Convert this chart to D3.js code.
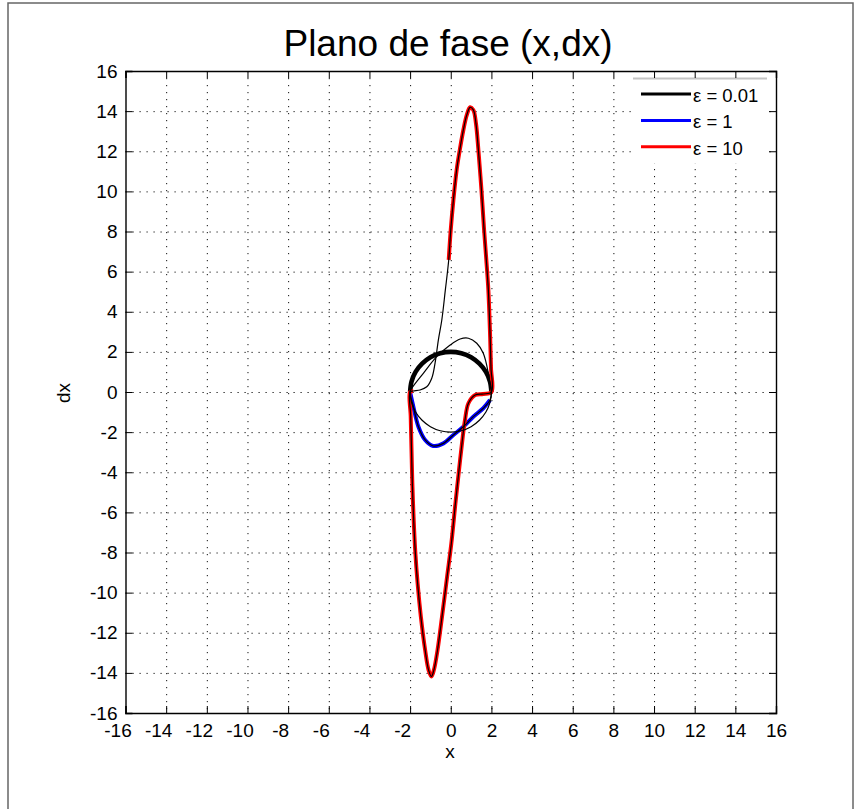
<!DOCTYPE html>
<html>
<head>
<meta charset="utf-8">
<script src="https://cdn.jsdelivr.net/npm/d3@7/dist/d3.min.js"></script>
<style>
  body { margin: 0; background: #fff; }
  svg { display: block; font-family: "Liberation Sans", Arial, Helvetica, sans-serif; }
</style>
</head>
<body>
<svg id="chart" width="855" height="809"></svg>
<script>
// tick values shared by both axes
const tickValues = [-16, -14, -12, -10, -8, -6, -4, -2, 0, 2, 4, 6, 8, 10, 12, 14, 16];

const seriesNames = ["ε = 0.01", "ε = 1", "ε = 10"];

// phase-plane loops (x, dx), in the order they are travelled
const loopEps001 = [
  [-2.00, 0.00], [-1.93, 0.52], [-1.73, 1.00], [-1.41, 1.41], [-1.00, 1.73], [-0.52, 1.93],
  [0.00, 2.00], [0.52, 1.93], [1.00, 1.73], [1.41, 1.41], [1.73, 1.00], [1.93, 0.52],
  [2.00, 0.00], [1.93, -0.52], [1.73, -1.00], [1.41, -1.41], [1.00, -1.73], [0.52, -1.93],
  [0.00, -2.00], [-0.52, -1.93], [-1.00, -1.73], [-1.41, -1.41], [-1.73, -1.00], [-1.93, -0.52]
];

const loopEps1 = [
  [1.93, -0.40], [1.60, -0.81], [1.11, -1.23], [0.62, -1.73], [0.13, -2.14], [-0.36, -2.56],
  [-0.86, -2.69], [-1.26, -2.39], [-1.59, -1.73], [-1.84, -0.73], [-2.00, 0.00],
  [-1.92, 0.18], [-1.35, 0.93], [-0.69, 1.76], [-0.03, 2.34], [0.46, 2.64], [0.87, 2.68],
  [1.28, 2.43], [1.60, 1.93], [1.85, 0.93], [1.93, 0.35], [2.00, 0.00]
];

const loopEps10 = [
  [-0.10, 6.58], [0.00, 8.08], [0.13, 9.57], [0.29, 11.07], [0.45, 12.10], [0.62, 13.06],
  [0.79, 13.81], [0.95, 14.19], [1.11, 14.06], [1.24, 13.39], [1.36, 12.06], [1.51, 10.07],
  [1.64, 8.08], [1.75, 6.58], [1.85, 5.08], [1.93, 3.00], [1.98, 1.20], [2.00, 0.00],
  [1.60, -0.10], [1.20, -0.15], [0.87, -0.56], [0.70, -1.40], [0.59, -2.23], [0.46, -3.39],
  [0.23, -5.55], [0.03, -7.54], [-0.18, -9.21], [-0.43, -11.20], [-0.65, -12.86], [-0.83, -13.86],
  [-0.95, -14.18], [-1.09, -13.86], [-1.26, -12.86], [-1.47, -11.20], [-1.63, -9.54], [-1.75, -7.88],
  [-1.83, -6.22], [-1.89, -4.55], [-1.93, -2.89], [-1.97, -1.20], [-2.00, 0.00], [-1.85, 0.05],
  [-1.51, 0.10], [-1.18, 0.26], [-0.93, 0.70], [-0.77, 1.45], [-0.61, 2.59], [-0.44, 3.59],
  [-0.27, 5.05]
];

// how many leading points of each loop are drawn with the thick coloured line
const thickCounts = [13, 11, 42];

const loops = [loopEps001, loopEps1, loopEps10];

const color = d3.scaleOrdinal()
  .domain(seriesNames)
  .range(["#000000", "#0000ff", "#ff0000"]);

const svg = d3.select("#chart");

const x = d3.scaleLinear().domain([-16, 16]).range([125.5, 776]);
const y = d3.scaleLinear().domain([-16, 16]).range([713, 71]);

// outer figure frame
svg.append("rect")
  .attr("x", 8)
  .attr("y", 3)
  .attr("width", 845)
  .attr("height", 840)
  .attr("fill", "#fff")
  .attr("stroke", "#666")
  .attr("stroke-width", 1.5);

// dotted grid
const grid = svg.append("g").attr("stroke", "#111").attr("stroke-width", 1).attr("stroke-dasharray", "1.2,5.8");
grid.selectAll("line.v")
  .data(tickValues.slice(1, -1))
  .join("line")
  .attr("class", "v")
  .attr("x1", d => x(d) + 0.5).attr("x2", d => x(d) + 0.5)
  .attr("y1", y(16)).attr("y2", y(-16));
grid.selectAll("line.h")
  .data(tickValues.slice(1, -1))
  .join("line")
  .attr("class", "h")
  .attr("y1", d => y(d) + 0.5).attr("y2", d => y(d) + 0.5)
  .attr("x1", x(-16)).attr("x2", x(16));

const line = d3.line()
  .x(d => x(d[0]))
  .y(d => y(d[1]));

// thick coloured pieces
svg.append("g")
  .selectAll("path")
  .data(loops)
  .join("path")
  .attr("fill", "none")
  .attr("stroke", (d, i) => color(seriesNames[i]))
  .attr("stroke-width", (d, i) => i === 0 ? 4.6 : 4)
  .attr("stroke-linejoin", "round")
  .attr("d", (d, i) => line.curve(d3.curveCatmullRom.alpha(0.5))(d.slice(0, thickCounts[i])));

// thin black full trajectories
svg.append("g")
  .selectAll("path")
  .data(loops)
  .join("path")
  .attr("fill", "none")
  .attr("stroke", "#000")
  .attr("stroke-width", 1.2)
  .attr("d", d => line.curve(d3.curveCatmullRomClosed.alpha(0.5))(d));

// legend
const legend = svg.append("g");
legend.append("rect")
  .attr("x", 633).attr("y", 78)
  .attr("width", 134).attr("height", 85)
  .attr("fill", "#fff");
legend.append("line")
  .attr("x1", 633).attr("x2", 767)
  .attr("y1", 78.5).attr("y2", 78.5)
  .attr("stroke", "#c4c4c4")
  .attr("stroke-width", 2);

const items = legend.selectAll("g.item")
  .data(seriesNames)
  .join("g")
  .attr("class", "item")
  .attr("transform", (d, i) => `translate(0,${94 + i * 26.4})`);
items.append("line")
  .attr("x1", 641).attr("x2", 691)
  .attr("stroke", d => color(d))
  .attr("stroke-width", 3);
items.append("text")
  .attr("x", 693)
  .attr("y", 8)
  .attr("font-size", 18.5)
  .attr("fill", "#000")
  .text(d => d);

// axes box with inward ticks
const box = svg.append("g");
box.append("g")
  .attr("transform", `translate(0,${y(-16)})`)
  .call(d3.axisBottom(x).tickValues(tickValues).tickSize(-7).tickPadding(10).tickFormat(d => d));
box.append("g")
  .attr("transform", `translate(0,${y(16)})`)
  .call(d3.axisTop(x).tickValues(tickValues).tickSize(-7).tickFormat(""));
box.append("g")
  .attr("transform", `translate(${x(-16)},0)`)
  .call(d3.axisLeft(y).tickValues(tickValues).tickSize(-7).tickPadding(8).tickFormat(d => d));
box.append("g")
  .attr("transform", `translate(${x(16)},0)`)
  .call(d3.axisRight(y).tickValues(tickValues).tickSize(-7).tickFormat(""));

box.selectAll(".domain").attr("stroke", "#000").attr("stroke-width", 1.4);
box.selectAll(".tick line").attr("stroke", "#000").attr("stroke-width", 1);
box.selectAll(".tick text")
  .attr("font-family", "'Liberation Sans', Arial, sans-serif")
  .attr("font-size", 19)
  .attr("fill", "#000");

// minus-signed x labels sit a bit to the left in the original
box.select("g").selectAll(".tick text")
  .attr("dx", d => d < 0 ? -8 : 0)
  .attr("dy", 0)
  .attr("y", 23.5);

// titles
svg.append("text")
  .attr("x", 448)
  .attr("y", 56)
  .attr("text-anchor", "middle")
  .attr("font-size", 37)
  .text("Plano de fase (x,dx)");

svg.append("text")
  .attr("x", 450)
  .attr("y", 758)
  .attr("text-anchor", "middle")
  .attr("font-size", 19)
  .text("x");

svg.append("text")
  .attr("transform", "translate(70,393) rotate(-90)")
  .attr("text-anchor", "middle")
  .attr("font-size", 19)
  .text("dx");
</script>
</body>
</html>
